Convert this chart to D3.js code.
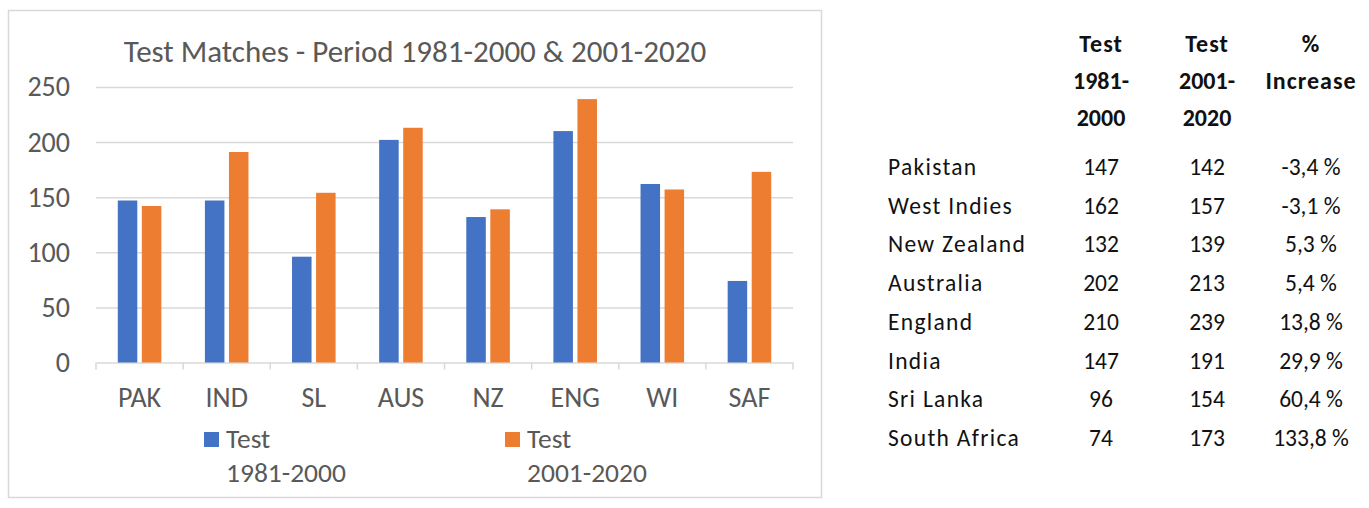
<!DOCTYPE html>
<html>
<head>
<meta charset="utf-8">
<script src="https://cdn.jsdelivr.net/npm/d3@7"></script>
<style>
  html, body { margin: 0; padding: 0; background: #fff; }
  svg { display: block; }
  text { font-family: Carlito, Lato, "Open Sans", sans-serif; }
</style>
</head>
<body>
<svg id="chart" width="1369" height="508"></svg>
<script>
// ---- data ----
const categories = ["PAK", "IND", "SL", "AUS", "NZ", "ENG", "WI", "SAF"];
const series1Name = ["Test", "1981-2000"];
const series2Name = ["Test", "2001-2020"];
const series1 = [147, 147, 96, 202, 132, 210, 162, 74];
const series2 = [142, 191, 154, 213, 139, 239, 157, 173];
const yTicks = [0, 50, 100, 150, 200, 250];
const chartTitle = "Test Matches - Period 1981-2000 & 2001-2020";

const tableHeaders = [["Test", "1981-", "2000"], ["Test", "2001-", "2020"], ["%", "Increase"]];
const tableCountries = ["Pakistan", "West Indies", "New Zealand", "Australia", "England", "India", "Sri Lanka", "South Africa"];
const table1981 = [147, 162, 132, 202, 210, 147, 96, 74];
const table2001 = [142, 157, 139, 213, 239, 191, 154, 173];
const tableIncrease = ["-3,4 %", "-3,1 %", "5,3 %", "5,4 %", "13,8 %", "29,9 %", "60,4 %", "133,8 %"];

const blue = "#4472C4", orange = "#ED7D31", grid = "#D9D9D9", txt = "#595959";

const svg = d3.select("#chart");
svg.append("rect").attr("width", 1369).attr("height", 508).attr("fill", "#fff");

// chart frame
svg.append("rect").attr("x", 8.5).attr("y", 10.5).attr("width", 813).attr("height", 487)
  .attr("fill", "#fff").attr("stroke", grid).attr("stroke-width", 1.5);

const plotL = 96, plotR = 793, plotT = 87, plotB = 362.5;
const x = d3.scaleBand().domain(categories).range([plotL, plotR]).padding(0);
const y = d3.scaleLinear().domain([0, 250]).range([plotB, plotT]);

// title
svg.append("text").attr("x", 415).attr("y", 62).attr("text-anchor", "middle")
  .attr("font-size", 31).attr("fill", txt).text(chartTitle);

// y axis + grid
const yAxis = svg.append("g").attr("transform", `translate(${plotL},0)`)
  .call(d3.axisLeft(y).tickValues(yTicks).tickSize(-(plotR - plotL)).tickPadding(26).tickFormat(d3.format("d")));
yAxis.select(".domain").remove();
yAxis.selectAll(".tick line").attr("stroke", grid).attr("stroke-width", 1.5)
  .attr("display", d => d === 0 ? "none" : null);
yAxis.selectAll(".tick text").attr("fill", txt).attr("font-size", 28).attr("font-family", null);

// x axis
const xAxis = svg.append("g").attr("transform", `translate(0,${plotB})`)
  .call(d3.axisBottom(x).tickSize(0).tickPadding(24.5).tickSizeOuter(0));
xAxis.select(".domain").attr("stroke", grid).attr("stroke-width", 1.5);
xAxis.selectAll(".tick text").attr("fill", txt).attr("font-size", 28).attr("font-family", null);
// category boundary ticks
const bounds = categories.map(c => x(c)).concat([x.range()[1]]);
xAxis.selectAll(".bound").data(bounds).enter().append("line")
  .attr("x1", d => d).attr("x2", d => d).attr("y1", 0).attr("y2", 7)
  .attr("stroke", grid).attr("stroke-width", 1.5);

// bars
const bw = x.bandwidth();
const w = bw * 0.224, gap = bw * 0.052;
const off = (bw - 2 * w - gap) / 2;
const bars = svg.append("g");
bars.selectAll(".b1").data(categories).enter().append("rect")
  .attr("x", (d) => x(d) + off).attr("width", w)
  .attr("y", (d, i) => y(series1[i])).attr("height", (d, i) => y(0) - y(series1[i]))
  .attr("fill", blue);
bars.selectAll(".b2").data(categories).enter().append("rect")
  .attr("x", (d) => x(d) + off + w + gap).attr("width", w)
  .attr("y", (d, i) => y(series2[i])).attr("height", (d, i) => y(0) - y(series2[i]))
  .attr("fill", orange);

// legend
const legend = [
  { name: series1Name, color: blue, x: 204 },
  { name: series2Name, color: orange, x: 505 }
];
legend.forEach(l => {
  svg.append("rect").attr("x", l.x).attr("y", 432).attr("width", 15).attr("height", 15).attr("fill", l.color);
  svg.append("text").attr("x", l.x + 22).attr("y", 448).attr("font-size", 27.5).attr("fill", txt).text(l.name[0]);
  svg.append("text").attr("x", l.x + 22).attr("y", 482).attr("font-size", 27.5).attr("fill", txt).text(l.name[1]);
});

// table
const colX = [1101, 1207, 1311];
const tbl = svg.append("g").attr("fill", "#111");
tableHeaders.forEach((h, ci) => {
  h.forEach((line, li) => {
    tbl.append("text").attr("x", colX[ci]).attr("y", 52 + li * 37)
      .attr("text-anchor", "middle").attr("font-weight", "bold").attr("font-size", 24)
      .attr("letter-spacing", /\d/.test(line) ? 0 : 1).text(line);
  });
});
const rowY = tableCountries.map((d, i) => 175 + i * 38.7);
tableCountries.forEach((c, i) => {
  tbl.append("text").attr("x", 888).attr("y", rowY[i]).attr("font-size", 23.5).attr("letter-spacing", 1.3).text(c);
  tbl.append("text").attr("x", colX[0]).attr("y", rowY[i]).attr("text-anchor", "middle").attr("font-size", 23.5).text(table1981[i]);
  tbl.append("text").attr("x", colX[1]).attr("y", rowY[i]).attr("text-anchor", "middle").attr("font-size", 23.5).text(table2001[i]);
  tbl.append("text").attr("x", colX[2]).attr("y", rowY[i]).attr("text-anchor", "middle").attr("font-size", 23.5).text(tableIncrease[i]);
});
</script>
</body>
</html>
